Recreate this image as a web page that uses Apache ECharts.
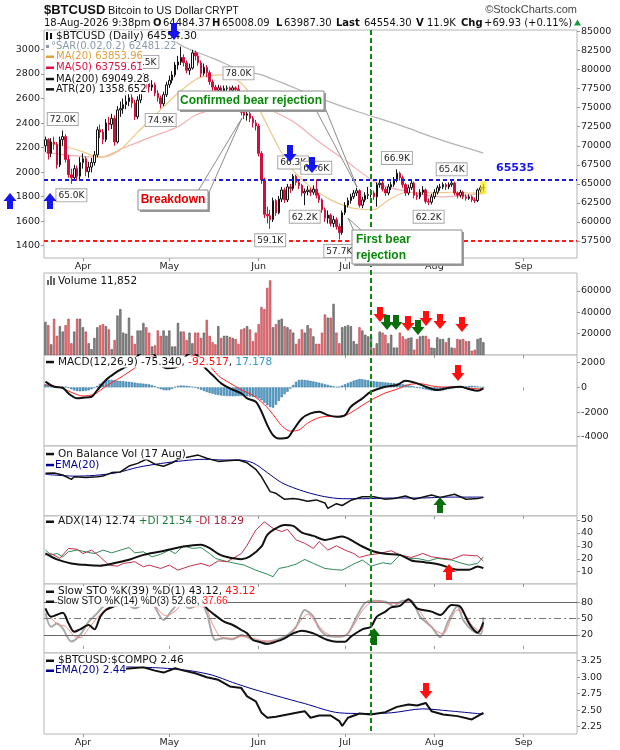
<!DOCTYPE html>
<html>
<head>
<meta charset="utf-8">
<title>$BTCUSD Daily</title>
<script src="https://cdn.jsdelivr.net/npm/echarts@6/dist/echarts.min.js"></script>
<style>
html, body { margin: 0; padding: 0; background: #fff; }
#chart { width: 620px; height: 750px; }
</style>
</head>
<body>
<div id="chart"></div>
<script>
var chart = echarts.init(document.getElementById('chart'));

// one category per calendar day, Mar 19 to mid Sep
var startDay = '2026-03-19';
var dayCount = 185;
var monthNames = ['Jan','Feb','Mar','Apr','May','Jun','Jul','Aug','Sep','Oct','Nov','Dec'];

// daily candles in thousands: [open, close, low, high]
var candles = [
  // Mar 19 - 31
  [70.0,70.8,69.2,71.2],[70.8,69.0,68.2,71.0],[69.0,70.5,68.5,71.0],[70.5,70.2,69.5,71.2],
  [70.2,67.5,67.0,70.5],[67.5,70.8,67.2,71.2],[70.8,71.2,70.0,72.0],[71.2,68.2,67.8,71.5],
  [68.2,66.2,65.8,68.8],[66.2,65.8,65.0,67.0],[65.8,67.0,65.5,67.5],[67.0,66.0,65.4,67.4],
  [66.0,67.8,65.6,68.5],
  // April
  [67.8,68.3,67.0,69.0],[68.3,66.6,66.0,68.6],[66.6,67.2,65.8,67.9],[67.2,67.8,66.5,68.4],
  [67.8,68.8,67.4,69.3],[68.8,72.1,68.5,72.5],[72.1,71.8,71.0,72.8],[71.8,70.8,70.2,72.2],
  [70.8,73.0,70.5,73.5],[73.0,72.8,72.0,73.8],[72.8,73.6,72.2,74.2],[73.6,70.5,70.0,74.0],
  [70.5,74.7,70.3,75.2],[74.7,74.9,73.8,75.8],[74.9,75.4,74.2,76.2],[75.4,75.8,74.8,76.6],
  [75.8,76.3,75.2,77.2],[76.3,75.6,75.0,76.8],[75.6,73.8,73.4,76.0],[73.8,76.0,73.5,76.5],
  [76.0,77.7,75.6,78.2],[77.7,78.6,77.2,79.5],[78.6,78.2,77.5,79.0],[78.2,77.7,77.0,78.8],
  [77.7,78.0,77.2,78.6],[78.0,76.9,76.5,78.3],[76.9,76.3,75.8,77.3],[76.3,75.5,74.9,76.6],
  [75.5,76.7,75.2,77.1],[76.7,78.0,76.4,78.4],
  // May
  [78.0,78.6,77.6,79.2],[78.6,79.3,78.2,79.8],[79.3,80.6,79.0,81.0],[80.6,81.0,80.0,81.8],
  [81.0,81.6,80.6,83.0],[81.6,80.9,80.4,82.0],[80.9,79.9,79.5,81.2],[79.9,80.2,79.3,80.8],
  [80.2,82.2,80.0,82.6],[82.2,81.8,81.2,82.5],[81.8,80.9,80.5,82.2],[80.9,79.5,79.0,81.2],
  [79.5,80.3,79.2,80.8],[80.3,79.6,79.0,80.6],[79.6,78.4,78.0,79.9],[78.4,77.7,77.2,78.7],
  [77.7,77.3,76.8,78.0],[77.3,77.6,77.0,78.0],[77.6,77.2,76.9,77.9],[77.2,77.5,76.9,77.9],
  [77.5,77.6,77.1,77.9],[77.6,77.3,76.9,77.8],[77.3,77.6,77.0,77.9],[77.6,77.4,77.0,77.8],
  [77.4,76.8,76.2,78.0],[76.8,74.4,74.0,77.0],[74.4,74.0,73.5,74.8],[74.0,74.2,73.3,74.7],
  [74.2,73.6,73.1,74.5],[73.6,73.0,72.4,73.9],[73.0,72.6,72.0,73.4],
  // June
  [72.6,69.0,68.6,72.9],[69.0,65.5,65.0,69.3],[65.5,61.0,60.5,65.8],[61.0,60.8,59.8,62.0],
  [60.8,60.3,59.1,61.6],[60.3,62.8,60.0,63.2],[62.8,61.2,60.8,63.0],[61.2,63.0,61.0,63.4],
  [63.0,64.2,62.6,64.6],[64.2,62.9,62.5,64.5],[62.9,64.6,62.6,65.0],[64.6,64.4,63.8,65.0],
  [64.4,66.0,64.1,66.3],[66.0,65.2,64.8,66.2],[65.2,64.8,64.3,65.5],[64.8,63.8,63.4,65.0],
  [63.8,64.0,62.2,64.4],[64.0,64.2,63.5,64.7],[64.2,63.9,63.4,64.5],[63.9,64.3,63.6,64.8],
  [64.3,63.5,63.1,65.6],[63.5,62.9,62.5,63.8],[62.9,61.6,61.2,63.1],[61.6,60.5,60.0,61.9],
  [60.5,60.9,59.8,61.5],[60.9,59.8,59.4,61.1],[59.8,60.3,59.3,60.8],[60.3,59.4,59.0,60.6],
  [59.4,58.6,57.7,59.8],[58.6,61.2,58.3,61.5],
  // July
  [61.2,62.2,60.9,62.6],[62.2,62.8,61.9,63.2],[62.8,63.3,62.4,63.7],[63.3,63.8,63.0,64.2],
  [63.8,64.1,63.4,64.5],[64.1,62.2,61.9,64.3],[62.2,62.9,61.8,63.3],[62.9,63.5,62.6,63.9],
  [63.5,63.6,63.0,64.6],[63.6,63.8,63.2,64.3],[63.8,63.3,62.9,64.1],[63.3,64.9,62.0,65.2],
  [64.9,65.1,64.5,65.6],[65.1,64.3,64.0,65.4],[64.3,63.8,63.4,64.6],[63.8,64.6,63.5,65.0],
  [64.6,64.9,64.2,65.3],[64.9,65.5,64.6,65.9],[65.5,66.4,65.2,66.9],[66.4,65.8,65.4,66.6],
  [65.8,64.9,64.5,66.1],[64.9,63.8,63.4,65.1],[63.8,64.5,63.5,64.9],[64.5,65.1,64.2,65.4],
  [65.1,63.5,63.1,65.3],[63.5,63.3,62.9,63.9],[63.3,63.9,63.0,64.3],[63.9,64.2,63.6,64.7],
  [64.2,62.7,62.4,64.4],[62.7,62.6,62.2,63.1],[62.6,63.3,62.3,63.7],
  // August
  [63.3,63.9,63.0,64.3],[63.9,64.5,63.6,64.8],[64.5,64.6,64.1,65.0],[64.6,64.9,64.3,65.2],
  [64.9,64.6,64.2,65.1],[64.6,64.9,64.3,65.2],[64.9,65.1,64.6,65.4],[65.1,63.8,63.5,65.3],
  [63.8,63.5,63.1,64.0],[63.5,63.9,63.2,64.2],[63.9,63.3,63.0,64.1],[63.3,63.1,62.8,63.6],
  [63.1,63.3,62.9,63.6],[63.3,62.9,62.6,63.5],[62.9,62.8,62.5,63.2],[62.8,64.2,62.6,64.4],
  [64.2,64.5,63.9,64.8],[64.48,64.55,63.99,65.01]
];

var volume = [
  31000,28000,10000,34000,18000,27000,22000,28000,34000,11000,
  22000,34000,34000,26000,22000,11000,5500,16000,26000,28000,
  29000,27000,24000,5500,14000,37000,43000,21000,20000,35000,
  18000,10500,23000,23000,30000,26000,21000,8000,9000,23000,
  18000,23000,18000,23000,8000,8000,30000,22000,22000,14000,
  21000,11000,21000,21000,16000,21000,33000,18000,12000,10000,
  27000,16000,18000,18000,17000,16000,15000,10500,24000,25000,
  27000,24000,13000,21000,29000,45000,43000,63000,70000,26000,
  29000,33000,34000,27000,26000,24000,21000,10500,15000,24000,
  21000,28000,25000,17500,10500,10500,21000,38000,35000,35000,
  48000,21000,11000,26000,27000,28000,27000,13000,10500,
  26000,23000,19000,17500,17500,6500,11000,22000,21000,19000,
  11000,19000,7000,7000,21000,17500,15000,16000,16500,5000,
  15000,17500,18000,18000,15000,7000,6500,16500,15000,
  15000,12000,16000,7000,6500,15000,14500,15000,13000,13000,
  4000,5000,15000,16000,12000
];

var macdHist = [
  250,200,150,80,30,-20,40,60,
  -60,-150,-250,-300,-320,-300,-280,-240,-150,
  -40,120,300,450,560,600,610,580,
  540,520,500,470,450,420,
  380,340,320,300,280,240,180,100,
  -60,-150,-220,-240,-200,-120,
  40,120,150,140,120,90,50,0,
  -100,-200,-300,-380,-450,-520,-580,-620,
  -660,-690,-700,-710,-720,-710,-700,-690,-700,-720,-740,-760,-800,
  -900,-1050,-1250,-1450,-1600,-1650,
  -1400,-1100,-800,-550,-350,-100,
  200,450,600,620,600,570,530,
  480,430,380,320,260,200,140,
  80,50,60,150,250,350,
  450,550,620,680,660,620,580,540,
  500,470,450,430,400,380,360,340,320,300,
  260,220,180,120,60,0,-60,
  -120,-170,-220,-260,-280,-290,-280,-250,-200,
  -150,-100,-60,-30,0,30,
  80,110,120,100,70,40,17
];

// overlay traces: [dayIndex, value]
var ma20Trace = [[0,70.4],[6,70.0],[13,69.2],[19,68.5],[23,68.8],[27,69.8],[32,71.8],[37,73.6],[41,75.1],[46,76.9],[51,78.4],[54,79.0],[62,79.3],[68,78.2],[73,75.6],[79,71.2],[85,67.2],[92,64.6],[99,62.9],[102,62.4],[107,61.8],[114,61.6],[118,62.6],[124,63.8],[129,63.9],[135,63.8],[141,63.9],[147,63.8],[152,63.85]];
var ma50Trace = [[0,69.1],[19,68.5],[27,69.7],[37,71.2],[46,72.5],[52,74.0],[61,75.0],[71,75.4],[85,73.4],[94,70.8],[104,68.1],[115,65.1],[123,64.2],[137,63.3],[152,63.76]];
var ma200Trace = [[40,85.4],[44,84.0],[48,83.0],[58,81.5],[68,79.9],[75,79.3],[97,76.0],[109,74.4],[123,72.7],[137,70.8],[152,69.05]];

var macdTrace = [[0,460],[3,50],[6,-30],[8,-490],[11,-890],[13,-840],[16,-760],[18,-220],[21,600],[24,1140],[27,1550],[29,1800],[31,2300],[33,2750],[36,2900],[38,2600],[40,1800],[42,1550],[45,1600],[47,1850],[49,2600],[51,2800],[53,2500],[55,1700],[58,1000],[61,325],[64,-80],[68,-490],[70,-890],[73,-1165],[75,-1980],[77,-3060],[79,-3875],[81,-4150],[84,-4090],[86,-3470],[89,-2520],[92,-2110],[95,-1980],[98,-2250],[101,-2385],[104,-2250],[106,-1570],[110,-890],[113,-350],[118,50],[122,190],[125,540],[129,325],[132,50],[136,-220],[140,-30],[144,50],[147,-140],[150,-270],[152,-75]];
var signalTrace = [[0,200],[5,0],[10,-500],[13,-700],[17,-550],[21,100],[25,650],[29,1250],[33,1900],[36,2400],[38,2500],[40,2250],[42,1850],[45,1700],[47,1800],[49,2200],[52,2600],[54,2450],[56,2050],[60,950],[64,350],[68,-200],[72,-650],[76,-1400],[79,-2200],[82,-3100],[85,-3550],[88,-3450],[91,-2900],[95,-2450],[99,-2350],[103,-2350],[106,-2050],[110,-1450],[114,-900],[118,-450],[122,-150],[126,220],[130,300],[134,120],[138,20],[142,40],[146,-30],[150,-120],[152,-93]];

// OBV has no scale on the chart: kept as percent of panel height
var obvTrace = [[0,61],[3,61.5],[6,58.6],[9,52.4],[10,56],[14,55],[18,56],[20,57],[23,62],[26,63],[29,71.4],[32,75.2],[35,81],[38,74],[41,71],[44,76],[46,81],[53,87],[56,82.4],[60,78],[63,79],[67,80],[70,76],[73,66.7],[75,56],[78,34.8],[80,32.4],[83,23.8],[86,25],[88,24],[91,21],[94,23],[97,18.6],[98,11],[101,17.6],[103,15],[106,22.4],[110,27.6],[114,27.6],[118,24],[121,25],[125,28.6],[128,24],[134,30],[137,26.6],[142,31],[146,24],[150,25],[152,26.6]];
var obvEmaTrace = [[0,59.5],[10,57],[17,58],[25,62],[32,69.5],[40,75],[48,79],[55,81],[62,80],[67,80],[72,76],[77,62],[82,47.6],[87,39],[92,32.4],[97,27.6],[103,24.7],[110,24.7],[120,25.7],[130,25.7],[140,27],[152,27]];

var adxTrace = [[0,24.2],[4,19.5],[9,16.4],[13,15.4],[19,14.6],[23,16.2],[29,19.3],[34,23],[40,25.6],[45,28.2],[50,30],[54,30.8],[57,28.2],[60,23.8],[63,21.3],[68,19.7],[71,21.8],[75,29.5],[77,38.5],[80,43.6],[83,46.2],[86,45.4],[89,40.3],[93,37.7],[97,34.6],[100,35.9],[103,37.2],[107,33.3],[110,29.5],[114,25.6],[118,23.8],[123,23],[127,18.7],[132,17.2],[137,15.4],[143,11.5],[147,11.5],[150,14.1],[152,12.74]];
var plusDiTrace = [[0,26.7],[2,22.9],[4,24.1],[6,21.5],[8,25.4],[11,26.7],[14,25.4],[17,24],[20,26.7],[23,24.6],[26,26.7],[29,28.7],[31,24.6],[34,25.4],[37,21.5],[40,23.5],[43,26.7],[45,24],[48,30],[51,28],[54,28.7],[57,24],[59,20.3],[62,18.4],[65,16.9],[69,15.1],[73,11.2],[77,8.1],[79,6.1],[81,12.5],[84,13.8],[87,15.9],[90,19.5],[93,16.4],[97,12.5],[100,11.7],[103,11.2],[107,15.9],[110,19],[113,14.3],[117,16.9],[120,15.9],[123,23],[126,20.3],[129,20.3],[133,18.4],[136,20.3],[141,19],[144,16.9],[147,15.1],[150,16.4],[152,21.54]];
var minusDiTrace = [[0,22.9],[2,24],[5,20.3],[8,28],[11,27.4],[13,24],[16,26.7],[19,21.5],[22,15.1],[25,14.3],[27,16.4],[31,17.7],[34,13.8],[36,15.1],[40,12.5],[43,15.1],[46,11.2],[50,14.3],[54,16.4],[57,14.3],[60,18.4],[63,17.7],[68,24],[70,30.5],[73,42.2],[76,48.6],[79,43.5],[82,41],[84,42.8],[87,34.6],[90,32],[93,28],[95,33.3],[98,26.7],[101,30],[104,26.7],[107,24.1],[109,21],[112,22.9],[116,24.1],[120,26.2],[123,23],[127,21],[131,24.1],[134,21.5],[138,20.3],[141,19.5],[145,23],[150,22.2],[152,18.29]];

var stoSlowTrace = [[0,69],[2,53.7],[6,61],[8,41.4],[10,26],[12,30.4],[15,38.4],[17,30.4],[19,53.7],[21,66],[24,73],[26,76],[30,82],[35,88],[40,82],[45,90],[50,92],[54,85],[56,69],[58,60],[62,44.5],[65,38.4],[68,29.2],[70,23],[72,10.8],[74,7.8],[77,3.5],[80,7.8],[83,14],[86,23],[89,28],[93,23],[95,18],[98,10.8],[101,7.8],[104,7.8],[106,17],[110,30.4],[113,35.3],[115,53.7],[118,62.9],[120,70.8],[123,73.3],[126,85.5],[129,69],[134,62.9],[137,56.7],[141,75],[144,72],[147,41.4],[150,24.3],[152,43.12]];
var stoFastTrace = [[0,60],[2,35],[4,41],[6,32],[9,8],[12,20],[15,44.5],[18,60],[20,72],[23,78],[26,84],[31,69],[36,84],[41,47.6],[44,66],[47,81],[50,69],[54,78],[56,60],[59,11],[62,14],[65,12],[68,20],[70,16],[73,9.6],[77,7.8],[80,11],[84,20],[87,35],[90,66],[93,53.7],[95,32],[98,18],[102,17],[105,23],[108,53.7],[111,79],[114,83],[118,81],[121,73],[124,83],[127,83],[130,53.7],[134,35],[137,16],[140,47.6],[143,73],[145,47.6],[148,29],[151,22],[152,52.68]];
var stoSignalTrace = [[0,65],[3,45],[5,38],[7,36],[10,18],[12,15],[15,32],[18,52],[21,68],[24,76],[27,82],[32,74],[36,80],[42,55],[45,64],[48,78],[51,72],[55,72],[58,40],[61,16],[65,14],[68,17],[71,16],[74,11],[77,9],[81,10],[85,20],[88,42],[91,58],[94,42],[97,25],[100,18],[104,19],[107,38],[110,65],[113,80],[116,82],[119,78],[122,78],[126,82],[129,70],[132,48],[135,30],[138,22],[141,52],[143,66],[146,55],[148,38],[151,27],[152,37.66]];

var ratioTrace = [[26,3.12],[30,3.135],[34,3.15],[38,3.10],[41,3.07],[45,3.135],[48,3.10],[52,3.06],[56,3.00],[60,2.96],[64,2.86],[68,2.835],[70,2.71],[73,2.635],[75,2.46],[77,2.385],[80,2.40],[84,2.435],[88,2.47],[90,2.485],[92,2.385],[95,2.42],[99,2.42],[102,2.335],[103,2.26],[105,2.385],[109,2.45],[113,2.435],[118,2.47],[122,2.55],[126,2.585],[129,2.57],[132,2.61],[134,2.485],[138,2.435],[143,2.41],[148,2.36],[152,2.46]];
var ratioEmaTrace = [[26,3.16],[40,3.14],[50,3.10],[58,3.03],[65,2.92],[72,2.82],[80,2.72],[90,2.60],[102,2.46],[110,2.45],[120,2.46],[131,2.52],[140,2.49],[152,2.44]];

// [dayIndex, price, side] for the boxed highs and lows
var priceTags = [[6,72.0,'top'],[9,65.0,'bottom'],[34,79.5,'top'],[40,74.9,'bottom'],[67,78.0,'top'],[78,59.1,'bottom'],[86,66.3,'top'],[94,65.6,'top'],[90,62.2,'bottom'],[102,57.7,'bottom'],[122,66.9,'top'],[141,65.4,'top'],[133,62.2,'bottom']];

var resistanceLevel = 65.535;
var supportLevel = 57.5;
var signalDay = 113;

var priceTicks = [57.5,60,62.5,65,67.5,70,72.5,75,77.5,80,82.5,85];
var leftTicks = [1400,1600,1800,2000,2200,2400,2600,2800,3000];
var volumeTicks = [20000,40000,60000];
var macdTicks = [-4000,-2000,0,2000];
var adxTicks = [10,20,30,40,50];
var stoTicks = [20,50,80];
var ratioTicks = [2.25,2.5,2.75,3,3.25];

var days = [];
var d0 = new Date(startDay + 'T00:00:00Z');
for (var i = 0; i < dayCount; i++) {
    days.push(new Date(d0.getTime() + i * 86400000).toISOString().slice(0, 10));
}

var FONT = 'DejaVu Sans';
function isMonthStart(idx, val) { return val.slice(8) === '01'; }
function plain(v) { return String(v); }

// panel frames [top, height]
var frames = [[30,228],[273,82],[355,91],[446,70],[516,68],[584,69],[653,81]];

var grids = frames.map(function (f) {
    return {left: 44, right: 43, top: f[0], height: f[1], show: true,
        borderColor: '#b4b4b4', borderWidth: 1, backgroundColor: '#fff'};
});

var xAxes = frames.map(function (f, g) {
    var showLabel = (g === 0 || g === 6);
    return {
        type: 'category', gridIndex: g, data: days, boundaryGap: true,
        axisLine: {show: false},
        axisTick: {show: true, interval: isMonthStart, alignWithLabel: true, length: 3, lineStyle: {color: '#999'}},
        axisLabel: {show: showLabel, interval: isMonthStart, margin: 4, fontSize: 9.5,
            fontFamily: FONT, color: '#222',
            formatter: function (v) { return monthNames[+v.slice(5, 7) - 1]; }},
        splitLine: {show: false}
    };
});

function valueAxis(grid, min, max, ticks, pos, fmt) {
    return {
        type: 'value', gridIndex: grid, min: min, max: max, position: pos || 'right',
        show: !!ticks, scale: true,
        splitLine: {show: false}, axisLine: {show: false},
        axisTick: {show: !!ticks, customValues: ticks || undefined, length: 3, lineStyle: {color: '#999'}},
        axisLabel: {show: !!ticks, customValues: ticks || undefined, margin: 4, fontSize: 9.5,
            fontFamily: FONT, color: '#222', formatter: fmt || plain}
    };
}

var yAxes = [
    valueAxis(0, 55.268, 85.197, priceTicks, 'right', function (v) { return String(Math.round(v * 1000)); }),
    valueAxis(0, 1300, 3159, leftTicks, 'left'),
    valueAxis(1, 0, 76900, volumeTicks, 'right'),
    valueAxis(2, -4754, 2624, macdTicks, 'right'),
    valueAxis(3, 0, 100, null, 'right'),
    valueAxis(4, 0.48, 53.1, adxTicks, 'right'),
    valueAxis(5, -13, 113.6, stoTicks, 'right'),
    valueAxis(6, 2.139, 3.367, ratioTicks, 'right', function (v) { return v.toFixed(2); })
];

function trace(x, y, data, color, width, smooth, z) {
    return {type: 'line', xAxisIndex: x, yAxisIndex: y, data: data, symbol: 'none',
        smooth: smooth || false, z: z || 3,
        lineStyle: {color: color, width: width}};
}

var volumeBars = volume.map(function (v, i) {
    var prev = i > 0 ? candles[i - 1][1] : candles[i][0];
    var down = candles[i][1] < prev;
    return {value: v, itemStyle: down
        ? {color: '#e07b82', borderColor: '#c0303a', borderWidth: 0.6}
        : {color: '#8c8c8c', borderColor: '#4a4a4a', borderWidth: 0.6}};
});

var tagPoints = priceTags.map(function (t) {
    return {name: t[1].toFixed(1) + 'K', coord: [t[0], t[1]], label: {position: t[2]}};
});
tagPoints.push({name: 'last', coord: [152, 64.5], symbol: 'rect', symbolSize: [6, 13],
    itemStyle: {color: 'rgba(255,236,0,0.7)'}, label: {show: false}});

var series = [
    trace(0, 0, ma200Trace, '#b4b4b4', 1.3, 0.3),
    trace(0, 0, ma50Trace, '#f2b0b0', 1.2, 0.3),
    trace(0, 0, ma20Trace, '#eec88a', 1.2, 0.3),
    {
        type: 'candlestick', xAxisIndex: 0, yAxisIndex: 0, data: candles, barWidth: 2, z: 4,
        itemStyle: {color: '#ffffff', color0: '#d0103a', borderColor: '#111', borderColor0: '#d0103a', borderWidth: 1},
        markLine: {
            symbol: 'none', silent: true, label: {show: false}, animation: false,
            data: [
                {yAxis: resistanceLevel, lineStyle: {color: '#1a1ae6', type: [4, 3], width: 2}},
                {yAxis: supportLevel, lineStyle: {color: '#ff1a1a', type: [4, 3], width: 2}}
            ]
        },
        markPoint: {
            symbol: 'rect', symbolSize: [1, 1], itemStyle: {color: 'rgba(0,0,0,0)'}, silent: true,
            label: {show: true, formatter: '{b}', fontSize: 9, fontFamily: FONT, color: '#222',
                backgroundColor: '#fff', borderColor: '#a8a8a8', borderWidth: 1,
                padding: [2, 2, 1, 2], distance: 5},
            data: tagPoints
        }
    },
    {type: 'bar', xAxisIndex: 1, yAxisIndex: 2, data: volumeBars, barWidth: '78%'},
    {type: 'bar', xAxisIndex: 2, yAxisIndex: 3, data: macdHist, barWidth: '80%',
        itemStyle: {color: '#5ba3cf', borderColor: '#2a6f97', borderWidth: 0.5}},
    trace(2, 3, signalTrace, '#ff2020', 1, 0.3),
    trace(2, 3, macdTrace, '#111', 2, 0.3, 5),
    trace(3, 4, obvEmaTrace, '#000090', 1, 0.3),
    trace(3, 4, obvTrace, '#111', 1.5, false, 5),
    trace(4, 5, plusDiTrace, '#2e8b57', 1),
    trace(4, 5, minusDiTrace, '#c0304a', 1),
    trace(4, 5, adxTrace, '#111', 2, 0.3, 5),
    trace(5, 6, stoFastTrace, '#a8a8a8', 2, 0.3),
    trace(5, 6, stoSignalTrace, '#f08888', 1, 0.3),
    (function () {
        var s = trace(5, 6, stoSlowTrace, '#111', 2, 0.3, 5);
        s.markLine = {symbol: 'none', silent: true, label: {show: false}, animation: false,
            data: [
                {yAxis: 80, lineStyle: {color: '#666', type: 'solid', width: 1}},
                {yAxis: 20, lineStyle: {color: '#666', type: 'solid', width: 1}},
                {yAxis: 50, lineStyle: {color: '#777', type: [7, 3, 2, 3], width: 1}}
            ]};
        return s;
    })(),
    trace(6, 7, ratioEmaTrace, '#000090', 1, 0.3),
    trace(6, 7, ratioTrace, '#111', 2, false, 5)
];

chart.setOption({
    animation: false,
    backgroundColor: '#fff',
    grid: grids,
    xAxis: xAxes,
    yAxis: yAxes,
    series: series
});

// ---------- annotations ----------
var measureCtx = document.createElement('canvas').getContext('2d');
function textWidth(s, font) { measureCtx.font = font; return measureCtx.measureText(s).width; }

function txt(x, y, s, font, color, extra, z) {
    var style = {text: s, font: font, fill: color || '#111', align: 'left', verticalAlign: 'middle',
        textAlign: 'left', textVerticalAlign: 'middle'};
    if (extra) { for (var k in extra) style[k] = extra[k]; }
    return {type: 'text', x: x, y: y, z: z || 120, silent: true, style: style};
}
// legend row made of coloured pieces laid out one after another
function legendRow(x, y, parts, font) {
    var out = [], cx = x;
    parts.forEach(function (p) {
        out.push(txt(cx, y, p[0], font, p[1], {backgroundColor: '#fff'}));
        cx += textWidth(p[0], font);
    });
    return out;
}
function swatch(y, color) {
    return {type: 'rect', z: 120, silent: true, shape: {x: 46, y: y - 1.2, width: 8, height: 2.5}, style: {fill: color}};
}
function arrow(cx, y0, y1, dir, color) {
    var hw = 6.5, bw = 3, head = 8, pts;
    if (dir === 'down') {
        pts = [[cx - bw, y0], [cx + bw, y0], [cx + bw, y1 - head], [cx + hw, y1 - head], [cx, y1], [cx - hw, y1 - head], [cx - bw, y1 - head]];
    } else {
        pts = [[cx - bw, y1], [cx + bw, y1], [cx + bw, y0 + head], [cx + hw, y0 + head], [cx, y0], [cx - hw, y0 + head], [cx - bw, y0 + head]];
    }
    return {type: 'polygon', z: 130, silent: true, shape: {points: pts}, style: {fill: color}};
}
function noteBox(x, y, w, h) {
    return [
        {type: 'rect', z: 124, silent: true, shape: {x: x + 2, y: y + 2, width: w, height: h}, style: {fill: '#9a9a9a'}},
        {type: 'rect', z: 125, silent: true, shape: {x: x, y: y, width: w, height: h}, style: {fill: '#fff', stroke: '#8c8c8c', lineWidth: 1}}
    ];
}
function wedge(pts) {
    return {type: 'polygon', z: 123, silent: true, shape: {points: pts}, style: {fill: 'rgba(255,255,255,0.7)', stroke: '#8c8c8c', lineWidth: 1}};
}

var BLUE = '#1515f0', RED = '#ff1010', GREEN = '#0a6e0a';
var NOTE = 'bold 12px "Liberation Sans"';
var HDR = '10px "' + FONT + '"', HDRB = 'bold 10px "' + FONT + '"';
var LEG = '10px "' + FONT + '"';
var LEG2 = '10.5px "' + FONT + '"';
var NARROW = '10px "Liberation Sans"';

var graphics = [
    // header
    txt(44, 10, '$BTCUSD', 'bold 13px "Liberation Sans"', '#111'),
    txt(108, 10.5, 'Bitcoin to US Dollar', '11px "Liberation Sans"', '#111'),
    txt(205, 11, 'CRYPT', '10px "Liberation Sans"', '#111'),
    txt(577, 10, '\u00a9StockCharts.com', '11px "Liberation Sans"', '#444', {align: 'right', textAlign: 'right'}),
    txt(44, 23, '18-Aug-2026 9:38pm', HDR),
    txt(153, 23, 'O', HDRB), txt(163, 23, '64484.37', HDR),
    txt(212, 23, 'H', HDRB), txt(222, 23, '65008.09', HDR),
    txt(276, 23, 'L', HDRB), txt(284, 23, '63987.30', HDR),
    txt(336, 23, 'Last', HDRB), txt(364, 23, '64554.30', HDR),
    txt(416, 23, 'V', HDRB), txt(427, 23, '11.9K', HDR),
    txt(461, 23, 'Chg', HDRB), txt(484, 23, '+69.93 (+0.11%)', HDR),

    // price legend icons
    {type: 'rect', z: 121, silent: true, shape: {x: 46, y: 32, width: 2, height: 8}, style: {fill: '#111'}},
    {type: 'rect', z: 121, silent: true, shape: {x: 50, y: 33, width: 2, height: 6}, style: {fill: '#111'}},
    {type: 'rect', z: 121, silent: true, shape: {x: 46, y: 45, width: 3, height: 3}, style: {fill: '#8a9aa8'}},
    swatch(56.7, '#e0a040'), swatch(67.7, '#dd1144'), swatch(79, '#111'), swatch(89.3, '#111'),
    txt(496, 168, '65535', 'bold 11px "' + FONT + '"', BLUE),

    // volume icon
    {type: 'rect', z: 120, silent: true, shape: {x: 47, y: 280, width: 2, height: 5}, style: {fill: '#666'}},
    {type: 'rect', z: 120, silent: true, shape: {x: 50, y: 276, width: 2, height: 9}, style: {fill: '#666'}},
    {type: 'rect', z: 120, silent: true, shape: {x: 53, y: 278, width: 2, height: 7}, style: {fill: '#666'}},

    swatch(362, '#111'),
    swatch(454, '#111'), swatch(465, '#000090'),
    swatch(521.7, '#111'),
    swatch(591.7, '#111'), swatch(601.7, '#111'),
    swatch(660.7, '#111'), swatch(670.7, '#000090'),

    // callouts
    wedge([[316, 110], [326, 110], [357, 187]]),
    wedge([[198, 191], [207, 197], [242, 118]]),
    wedge([[348, 218], [354, 231], [362, 231]])
];

graphics = graphics.concat(
    legendRow(56, 36, [['$BTCUSD (Daily) 64554.30', '#111']], LEG2),
    legendRow(51, 46.7, [['\u00b0SAR(0.02,0.2) 62481.22', '#8a9aa8']], LEG),
    legendRow(56, 56.7, [['MA(20) 63853.96', '#e0a040']], LEG),
    legendRow(56, 67.7, [['MA(50) 63759.61', '#dd1144']], LEG),
    legendRow(56, 79, [['MA(200) 69049.28', '#111']], LEG),
    legendRow(56, 89.3, [['ATR(20) 1358.652', '#111']], LEG),
    legendRow(58, 281, [['Volume 11,852', '#111']], LEG2),
    legendRow(58, 362, [['MACD(12,26,9) -75.340, ', '#111'], ['-92.517', '#ff1010'], [', ', '#111'], ['17.178', '#3399cc']], LEG2),
    legendRow(58, 454, [['On Balance Vol (17 Aug)', '#111']], LEG2),
    legendRow(55, 465, [['EMA(20)', '#000090']], LEG2),
    legendRow(58, 521.7, [['ADX(14) 12.74 ', '#111'], ['+DI 21.54 ', '#1a7a3a'], ['-DI 18.29', '#b0203a']], LEG2),
    legendRow(58, 591.7, [['Slow STO %K(39) %D(1) 43.12, ', '#111'], ['43.12', '#ff1010']], LEG2),
    legendRow(57, 601.7, [['Slow STO %K(14) %D(3) 52.68, ', '#111'], ['37.66', '#ff1010']], NARROW),
    legendRow(58, 660.7, [['$BTCUSD:$COMPQ 2.46', '#111']], LEG2),
    legendRow(55, 670.7, [['EMA(20) 2.44', '#000090']], LEG2)
);

graphics = graphics.concat(noteBox(178, 91, 146, 19),
    [txt(251, 100.5, 'Confirmed bear rejection', NOTE, '#0a8a0a', {align: 'center', textAlign: 'center'}, 126)]);
graphics = graphics.concat(noteBox(138, 190, 70, 20),
    [txt(173, 200, 'Breakdown', NOTE, '#e00000', {align: 'center', textAlign: 'center'}, 126)]);
graphics = graphics.concat(noteBox(352, 230, 110, 34), [
    txt(356, 239.5, 'First bear', NOTE, '#0a8a0a', null, 126),
    txt(356, 255.5, 'rejection', NOTE, '#0a8a0a', null, 126)
]);

// arrows
graphics.push(
    arrow(174, 23, 40, 'down', BLUE),
    arrow(290, 145, 162, 'down', BLUE),
    arrow(312, 157, 173, 'down', BLUE),
    arrow(10, 193, 209, 'up', BLUE),
    arrow(50, 193, 209, 'up', BLUE),
    arrow(380, 307, 322, 'down', RED),
    arrow(387, 315, 330, 'down', GREEN),
    arrow(396, 315, 330, 'down', GREEN),
    arrow(408, 316, 331, 'down', RED),
    arrow(418, 320, 335, 'down', GREEN),
    arrow(426, 311, 326, 'down', RED),
    arrow(440, 314, 329, 'down', RED),
    arrow(462, 317, 332, 'down', RED),
    arrow(458, 365, 381, 'down', RED),
    arrow(440, 497, 513, 'up', GREEN),
    arrow(449, 564, 580, 'up', RED),
    arrow(374, 628, 645, 'up', GREEN),
    arrow(426, 683, 699, 'down', RED)
);

// small "up on the day" marker after the change figure
graphics.push({type: 'polygon', z: 200, silent: true, x: 574, y: 19.5,
    shape: {points: [[0, 6], [7, 6], [3.5, 0]]}, style: {fill: '#1a9a3a'}});

// green signal day line through all panels
var vx = chart.convertToPixel({xAxisIndex: 0}, days[signalDay]);
graphics.push({type: 'line', z: 115, silent: true,
    shape: {x1: vx, y1: 30, x2: vx, y2: 734},
    style: {stroke: '#0a8a0a', lineWidth: 2, lineDash: [5, 3]}});

chart.setOption({graphic: graphics});
</script>
</body>
</html>
